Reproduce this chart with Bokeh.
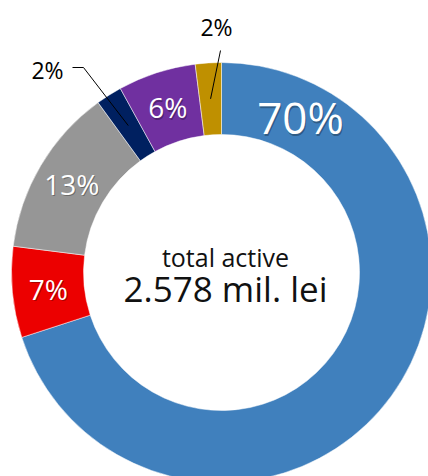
import math
from bokeh.plotting import figure
from bokeh.models import ColumnDataSource
from bokeh.core.properties import value
from bokeh.embed import file_html
from bokeh.resources import INLINE

# ---- data ----
categories = ["A", "B", "C", "D", "E", "F"]
shares = [70, 7, 13, 2, 6, 2]
labels = ["70%", "7%", "13%", "2%", "6%", "2%"]
colors = ["#4080bd", "#ec0000", "#969696", "#002060", "#7030a0", "#bf9000"]
center_title = "total active"
center_value = "2.578 mil. lei"

# ---- layout ----
W, H = 428, 476
R_OUT, R_IN = 210, 138
R_LAB = (R_OUT + R_IN) / 2
FONT = value("Open Sans")

p = figure(width=W, height=H, x_range=(-221, 207), y_range=(-204, 272),
           output_backend="svg", toolbar_location=None, min_border=0)
p.axis.visible = False
p.grid.visible = False
p.outline_line_color = None
p.background_fill_color = "white"
p.border_fill_color = "white"

total = sum(shares)
starts, ends, mids = [], [], []
acc = 0.0
for s in shares:
    a0 = acc / total
    acc += s
    a1 = acc / total
    starts.append(math.pi / 2 - a0 * 2 * math.pi)
    ends.append(math.pi / 2 - a1 * 2 * math.pi)
    mids.append((a0 + a1) / 2 * 2 * math.pi)  # clockwise from top

src = ColumnDataSource(dict(cat=categories, start=starts, end=ends, color=colors))
p.annular_wedge(x=0, y=0, inner_radius=R_IN, outer_radius=R_OUT,
                start_angle="start", end_angle="end", direction="clock",
                fill_color="color", line_color="white", line_width=0.5,
                source=src)

# inside labels (white with soft shadow)
inside = [0, 1, 2, 4]
sizes = {0: "44px", 1: "28px", 2: "28px", 4: "28px"}
angle_override = {0: math.radians(27)}
for i in inside:
    a = angle_override.get(i, mids[i])
    lx, ly = R_LAB * math.sin(a), R_LAB * math.cos(a)
    p.text(x=[lx + 1], y=[ly - 1.5], text=[labels[i]], text_align="center",
           text_baseline="middle", text_font=FONT, text_font_size=sizes[i],
           text_color="#000000", text_alpha=0.3)
    p.text(x=[lx], y=[ly], text=[labels[i]], text_align="center",
           text_baseline="middle", text_font=FONT, text_font_size=sizes[i],
           text_color="white")

# outside labels with leader lines
outside = {3: ((-174, 203), [(-149, 205), (-138, 205)]),
           5: ((-5, 246), [(-1, 222)])}
for i, ((tx, ty), pts) in outside.items():
    a = mids[i]
    mx, my = R_LAB * math.sin(a), R_LAB * math.cos(a)
    xs = [q[0] for q in pts] + [mx]
    ys = [q[1] for q in pts] + [my]
    p.line(xs, ys, line_color="black", line_width=1)
    p.text(x=[tx], y=[ty], text=[labels[i]], text_align="center",
           text_baseline="middle", text_font=FONT, text_font_size="23px",
           text_color="black")

# center text
p.text(x=[4], y=[16], text=[center_title], text_align="center",
       text_baseline="middle", text_font=FONT, text_font_size="25px",
       text_color="#111111")
p.text(x=[4], y=[-16], text=[center_value], text_align="center",
       text_baseline="middle", text_font=FONT, text_font_size="35px",
       text_color="#111111")

open("out.html", "w").write(file_html(p, INLINE))
